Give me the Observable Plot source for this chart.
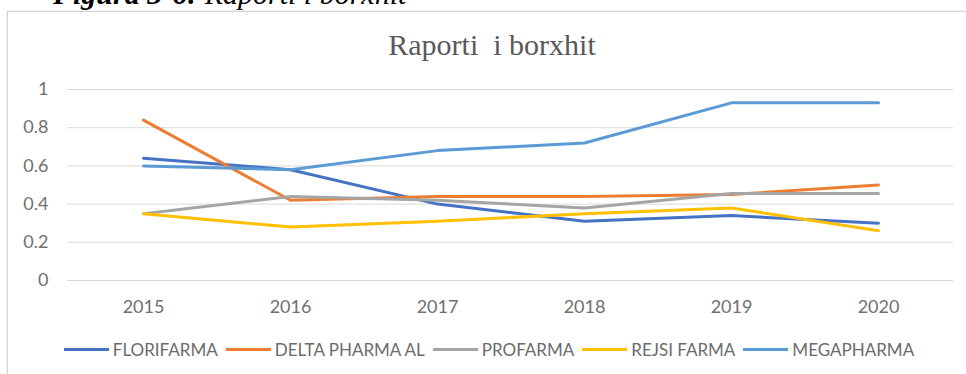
<!DOCTYPE html>
<html>
<head>
<meta charset="utf-8">
<script src="https://cdn.jsdelivr.net/npm/d3@7"></script>
<script src="https://cdn.jsdelivr.net/npm/@observablehq/plot@0.6"></script>
<style>
  html, body { margin: 0; padding: 0; background: #fff; }
  body { width: 966px; height: 374px; position: relative; overflow: hidden; font-family: Lato, sans-serif; }
  #caption { position: absolute; left: 53px; top: -23px; font-family: "Liberation Serif", serif; font-size: 30px; color: #000; white-space: nowrap; }
  #caption b { font-weight: bold; font-style: italic; }
  #caption i { font-style: italic; }
  #frame { position: absolute; left: 7px; top: 11px; width: 980px; height: 400px; border: 1px solid #d4d4d4; box-shadow: 0 0 2px #e0e0e0; }
  #title { position: absolute; left: 0; width: 984px; top: 28px; text-align: center; font-family: "Liberation Serif", serif; font-size: 30px; color: #595959; white-space: pre; }
  #chart { position: absolute; left: 0; top: 0; }
  #legend { position: absolute; left: 0; width: 978px; top: 339px; display: flex; justify-content: center; align-items: center; font-size: 17px; color: #6b6b6b; }
  .item { display: flex; align-items: center; margin: 0 4px; }
  .sw { width: 45px; height: 3px; margin-right: 4px; }
</style>
</head>
<body>
<div id="caption"><b>Figura 3-6:</b> <i>Raporti i borxhit</i></div>
<div id="frame"></div>
<div id="title">Raporti  i borxhit</div>
<div id="chart"></div>
<div id="legend"></div>
<script>
const years = ["2015", "2016", "2017", "2018", "2019", "2020"];
const seriesNames = ["FLORIFARMA", "DELTA PHARMA AL", "PROFARMA", "REJSI FARMA", "MEGAPHARMA"];
const seriesColors = ["#4472C4", "#ED7D31", "#A5A5A5", "#FFC000", "#5B9BD5"];
const florifarma = [0.64, 0.58, 0.40, 0.31, 0.34, 0.30];
const deltaPharma = [0.84, 0.42, 0.44, 0.44, 0.45, 0.50];
const profarma = [0.35, 0.44, 0.42, 0.38, 0.455, 0.455];
const rejsiFarma = [0.35, 0.28, 0.31, 0.35, 0.38, 0.26];
const megapharma = [0.60, 0.58, 0.68, 0.72, 0.93, 0.93];
const yTicks = [0, 0.2, 0.4, 0.6, 0.8, 1];

const seriesValues = [florifarma, deltaPharma, profarma, rejsiFarma, megapharma];
const data = [];
seriesNames.forEach((name, i) => {
  years.forEach((yr, j) => data.push({series: name, year: yr, value: seriesValues[i][j]}));
});

const chart = Plot.plot({
  width: 966,
  height: 320,
  marginTop: 89,
  marginBottom: 40,
  marginLeft: 67,
  marginRight: 13,
  style: {fontFamily: "Lato, sans-serif", fontSize: "18px", color: "#6b6b6b", background: "transparent"},
  x: {type: "point", domain: years, padding: 0.5},
  y: {domain: [0, 1]},
  color: {domain: seriesNames, range: seriesColors},
  marks: [
    Plot.ruleY(yTicks, {stroke: "#d9d9d9", strokeWidth: 1}),
    Plot.axisY(yTicks, {tickSize: 0, tickPadding: 19, fontSize: 18, fill: "#707070", label: null, tickFormat: d => String(d)}),
    Plot.axisX({tickSize: 0, tickPadding: 20, fontSize: 18, fill: "#707070", label: null}),
    Plot.line(data, {x: "year", y: "value", stroke: "series", z: "series", strokeWidth: 3, strokeLinejoin: "round"})
  ]
});
document.getElementById("chart").appendChild(chart);

const legend = document.getElementById("legend");
seriesNames.forEach((name, i) => {
  const item = document.createElement("div");
  item.className = "item";
  const sw = document.createElement("div");
  sw.className = "sw";
  sw.style.background = seriesColors[i];
  const t = document.createElement("span");
  t.textContent = name;
  item.appendChild(sw);
  item.appendChild(t);
  legend.appendChild(item);
});
</script>
</body>
</html>
